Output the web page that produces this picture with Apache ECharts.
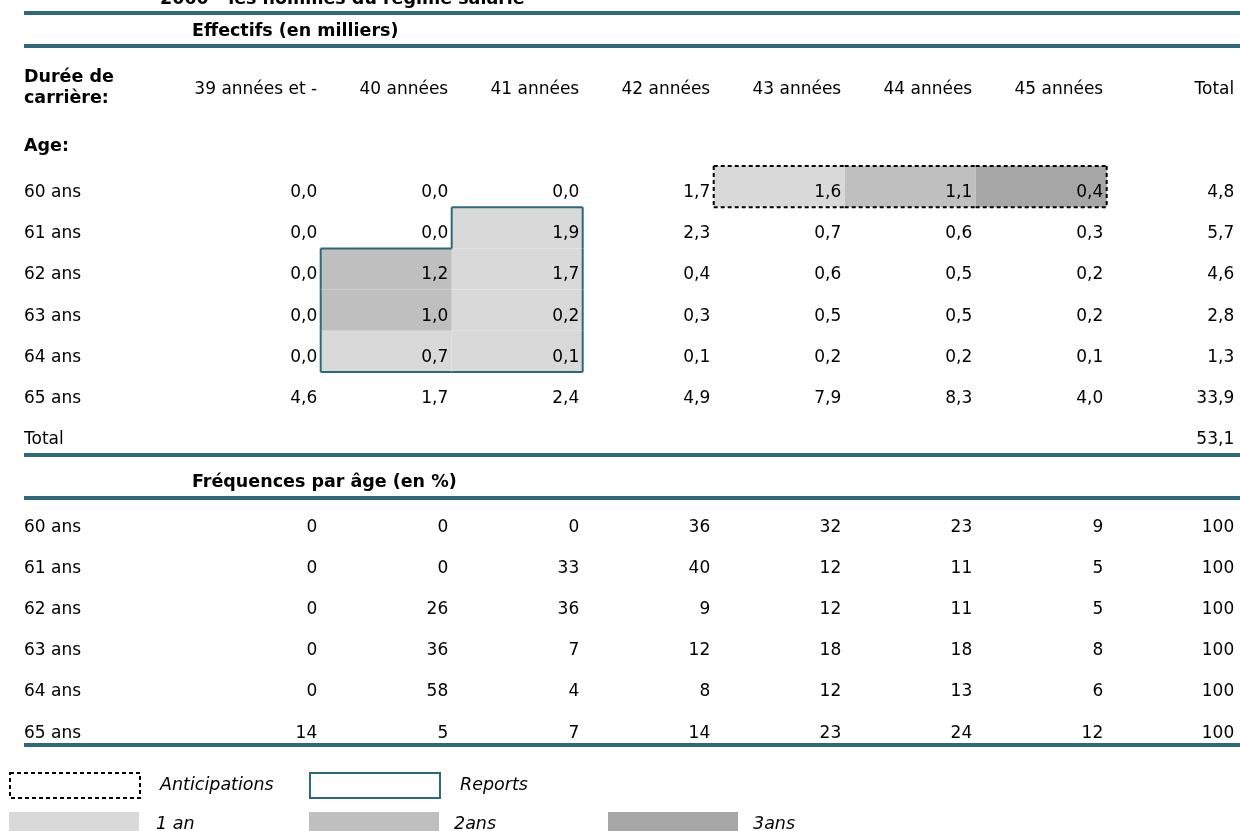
<!DOCTYPE html>
<html><head><meta charset="utf-8">
<script src="https://cdn.jsdelivr.net/npm/echarts@6/dist/echarts.min.js"></script>
<style>html,body{margin:0;padding:0;background:#fff}#c{width:1240px;height:831px}</style>
</head><body><div id="c"></div>
<script>
// ---------- data ----------
const columns = ['39 années et -', '40 années', '41 années', '42 années', '43 années', '44 années', '45 années', 'Total'];
const ages = ['60 ans', '61 ans', '62 ans', '63 ans', '64 ans', '65 ans'];
const effRowLabels = ['60 ans', '61 ans', '62 ans', '63 ans', '64 ans', '65 ans', 'Total'];

// Effectifs (en milliers)
const eff60 = [0.0, 0.0, 0.0, 1.7, 1.6, 1.1, 0.4, 4.8];
const eff61 = [0.0, 0.0, 1.9, 2.3, 0.7, 0.6, 0.3, 5.7];
const eff62 = [0.0, 1.2, 1.7, 0.4, 0.6, 0.5, 0.2, 4.6];
const eff63 = [0.0, 1.0, 0.2, 0.3, 0.5, 0.5, 0.2, 2.8];
const eff64 = [0.0, 0.7, 0.1, 0.1, 0.2, 0.2, 0.1, 1.3];
const eff65 = [4.6, 1.7, 2.4, 4.9, 7.9, 8.3, 4.0, 33.9];
const effTotal = [null, null, null, null, null, null, null, 53.1];

// Fréquences par âge (en %)
const freq60 = [0, 0, 0, 36, 32, 23, 9, 100];
const freq61 = [0, 0, 33, 40, 12, 11, 5, 100];
const freq62 = [0, 26, 36, 9, 12, 11, 5, 100];
const freq63 = [0, 36, 7, 12, 18, 18, 8, 100];
const freq64 = [0, 58, 4, 8, 12, 13, 6, 100];
const freq65 = [14, 5, 7, 14, 23, 24, 12, 100];

// highlighted cells: [column, row, years shifted]
const anticipationCells = [['43 années', '60 ans', 1], ['44 années', '60 ans', 2], ['45 années', '60 ans', 3]];
const reportCells = [['41 années', '61 ans', 1], ['40 années', '62 ans', 2], ['41 années', '62 ans', 1],
                     ['40 années', '63 ans', 2], ['41 années', '63 ans', 1], ['40 années', '64 ans', 1], ['41 années', '64 ans', 1]];
const shadeNames = ['1 an', '2ans', '3ans'];
const outlineNames = ['Anticipations', 'Reports'];

// ---------- styles ----------
const FONT = 'DejaVu Sans';
const TEAL = '#2e687c';
const SHADES = ['#d9d9d9', '#bfbfbf', '#a6a6a6'];
const TXT = '#000';
const DY = 6; // text sits low in its cell

const fmt1 = v => v.toFixed(1).replace('.', ',');

const effRows = [eff60, eff61, eff62, eff63, eff64, eff65, effTotal];
const freqRows = [freq60, freq61, freq62, freq63, freq64, freq65];
const effPoints = [];
effRows.forEach((row, ri) => row.forEach((v, ci) => { if (v != null) effPoints.push([ci, ri, v]); }));
const freqPoints = [];
freqRows.forEach((row, ri) => row.forEach((v, ci) => { if (v != null) freqPoints.push([ci, ri, v]); }));

const toIdx = c => [columns.indexOf(c[0]), effRowLabels.indexOf(c[1]), c[2]];
const allCells = anticipationCells.concat(reportCells).map(toIdx);

function cellBox(api, xi, yi) {
  const c = api.coord([xi, yi]);
  const s = api.size([1, 1]);
  return { x: c[0] - s[0] / 2, y: c[1] - s[1] / 2, w: s[0], h: s[1] };
}

function fillSeries(level) {
  return {
    name: shadeNames[level - 1], type: 'custom', xAxisIndex: 0, yAxisIndex: 0, z: 1,
    itemStyle: { color: SHADES[level - 1] },
    data: allCells.filter(c => c[2] === level).map(c => [c[0], c[1]]),
    renderItem: (params, api) => {
      const b = cellBox(api, api.value(0), api.value(1));
      return { type: 'rect', shape: { x: b.x, y: b.y, width: b.w, height: b.h }, style: { fill: SHADES[level - 1] } };
    }
  };
}

function outlineSeries(name, cells, stroke, dash) {
  const idx = cells.map(toIdx);
  const set = new Set(idx.map(c => c[0] + ',' + c[1]));
  return {
    name, type: 'custom', xAxisIndex: 0, yAxisIndex: 0, z: 3,
    itemStyle: { color: '#fff', borderColor: stroke },
    data: idx.map(c => [c[0], c[1]]),
    renderItem: (params, api) => {
      const xi = api.value(0), yi = api.value(1);
      const b = cellBox(api, xi, yi);
      const style = { stroke, lineWidth: 2, lineDash: dash || null, fill: null };
      const kids = [];
      if (!set.has(xi + ',' + (yi - 1))) kids.push({ type: 'line', shape: { x1: b.x, y1: b.y, x2: b.x + b.w, y2: b.y }, style });
      if (!set.has(xi + ',' + (yi + 1))) kids.push({ type: 'line', shape: { x1: b.x, y1: b.y + b.h, x2: b.x + b.w, y2: b.y + b.h }, style });
      if (!set.has((xi - 1) + ',' + yi)) kids.push({ type: 'line', shape: { x1: b.x, y1: b.y, x2: b.x, y2: b.y + b.h }, style });
      if (!set.has((xi + 1) + ',' + yi)) kids.push({ type: 'line', shape: { x1: b.x + b.w, y1: b.y, x2: b.x + b.w, y2: b.y + b.h }, style });
      return { type: 'group', children: kids };
    }
  };
}

function labelSeries(points, xi, yi, formatter) {
  return {
    type: 'scatter', xAxisIndex: xi, yAxisIndex: yi, symbolSize: 0, z: 5, silent: true,
    itemStyle: { color: TXT, opacity: 1 },
    data: points,
    label: {
      show: true, position: [0, 0], align: 'right', verticalAlign: 'middle', offset: [62, DY],
      fontFamily: FONT, fontSize: 17, color: TXT, opacity: 1, textBorderWidth: 0,
      formatter: p => formatter(p.value[2])
    }
  };
}

const boldTitle = (text, left, top, extra) => Object.assign({
  text, left, top, padding: 0,
  textStyle: Object.assign({ fontFamily: FONT, fontWeight: 'bold', fontSize: 17.5, color: '#000' }, extra || {})
});

const axisCommon = { axisLine: { show: false }, axisTick: { show: false }, splitLine: { show: false } };
const rowLabel = {
  interval: 0, align: 'left', margin: 165.7,
  formatter: v => '{r|' + v + '}',
  rich: { r: { padding: [2 * DY, 0, 0, 0], fontFamily: FONT, fontSize: 17, color: TXT } }
};

function legendItem(name, left, top, textPad, itemStyle) {
  return {
    left, top, padding: 0, itemWidth: 130, itemHeight: 25, selectedMode: false, icon: 'rect',
    textStyle: { fontFamily: FONT, fontStyle: 'italic', fontSize: 17.5, color: '#000', padding: [0, 0, 0, textPad] },
    data: [{ name, icon: 'rect', itemStyle }]
  };
}

const option = {
  backgroundColor: '#fff',
  animation: false,
  title: [
    boldTitle('2060 - les hommes du régime salarié', 160, -10),
    boldTitle('Effectifs (en milliers)', 192, 22),
    boldTitle('Durée de\ncarrière:', 24, 67, { lineHeight: 21 }),
    boldTitle('Age:', 24, 137),
    boldTitle('Fréquences par âge (en %)', 192, 473)
  ],
  grid: [
    { left: 189.7, top: 166, width: 1048, height: 288.4, outerBoundsMode: 'none', containLabel: false },
    { left: 189.7, top: 500.5, width: 1048, height: 247.2, outerBoundsMode: 'none', containLabel: false }
  ],
  xAxis: [
    Object.assign({
      gridIndex: 0, type: 'category', data: columns, position: 'top',
      axisLabel: {
        interval: 0, margin: 76, verticalAlign: 'middle',
        formatter: v => '{h|' + v + '}',
        rich: { h: { width: 124, align: 'right', fontFamily: FONT, fontSize: 17, color: TXT } }
      }
    }, axisCommon),
    Object.assign({ gridIndex: 1, type: 'category', data: columns, axisLabel: { show: false } }, axisCommon)
  ],
  yAxis: [
    Object.assign({ gridIndex: 0, type: 'category', data: effRowLabels, inverse: true, axisLabel: rowLabel }, axisCommon),
    Object.assign({ gridIndex: 1, type: 'category', data: ages, inverse: true, axisLabel: rowLabel }, axisCommon)
  ],
  legend: [
    legendItem(outlineNames[0], 9, 772, 15, { color: '#fff', borderColor: '#000', borderWidth: 2, borderType: [4, 3] }),
    legendItem(outlineNames[1], 309, 772, 15, { color: '#fff', borderColor: TEAL, borderWidth: 2 }),
    legendItem(shadeNames[0], 9, 812, 12, { color: SHADES[0], borderWidth: 0 }),
    legendItem(shadeNames[1], 309, 812, 10, { color: SHADES[1], borderWidth: 0 }),
    legendItem(shadeNames[2], 608, 812, 10, { color: SHADES[2], borderWidth: 0 })
  ],
  graphic: [13, 46, 455, 498, 745].map(y => ({
    type: 'line', silent: true, z: 10,
    shape: { x1: 24, y1: y, x2: 1240, y2: y },
    style: { stroke: TEAL, lineWidth: 4 }
  })),
  series: [
    fillSeries(1), fillSeries(2), fillSeries(3),
    outlineSeries(outlineNames[0], anticipationCells, '#000', [4, 3]),
    outlineSeries(outlineNames[1], reportCells, TEAL, null),
    labelSeries(effPoints, 0, 0, fmt1),
    labelSeries(freqPoints, 1, 1, v => String(v))
  ]
};

const chart = echarts.init(document.getElementById('c'), null, { renderer: 'canvas', width: 1240, height: 831 });
chart.setOption(option);
</script>
</body></html>
